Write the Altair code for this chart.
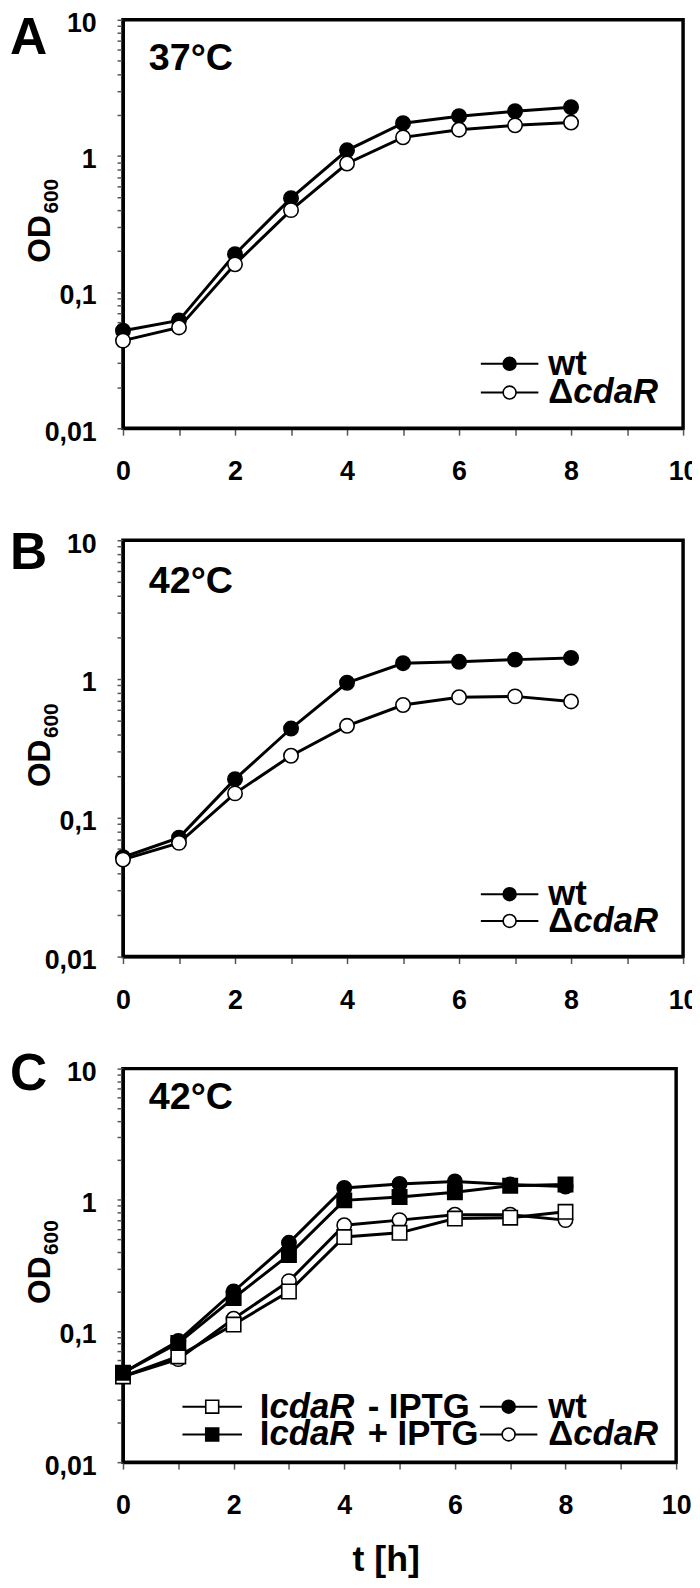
import altair as alt
import pandas as pd

FONT = "Liberation Sans"

# ---------------- data ----------------
hours = [0, 1, 2, 3, 4, 5, 6, 7, 8]

a_wt = [0.052, 0.062, 0.19, 0.49, 1.10, 1.74, 1.96, 2.13, 2.28]
a_cdar = [0.044, 0.055, 0.16, 0.40, 0.88, 1.37, 1.56, 1.68, 1.76]

b_wt = [0.052, 0.072, 0.19, 0.44, 0.94, 1.30, 1.33, 1.38, 1.42]
b_cdar = [0.050, 0.066, 0.15, 0.28, 0.46, 0.65, 0.74, 0.75, 0.69]

c_wt = [0.048, 0.084, 0.20, 0.47, 1.23, 1.32, 1.38, 1.31, 1.26]
c_cdar = [0.045, 0.061, 0.124, 0.24, 0.64, 0.70, 0.77, 0.77, 0.70]
c_minus = [0.045, 0.064, 0.112, 0.20, 0.52, 0.56, 0.72, 0.73, 0.81]
c_plus = [0.048, 0.081, 0.178, 0.38, 0.99, 1.05, 1.14, 1.28, 1.31]

series_names = ["wt", "ΔcdaR", "IcdaR - IPTG", "IcdaR + IPTG"]
series_shapes = ["circle", "circle", "square", "square"]
series_fills = ["black", "white", "white", "black"]

panel_letters = ["A", "B", "C"]
panel_temps = ["37°C", "42°C", "42°C"]

x_tick_values = [0, 1, 2, 3, 4, 5, 6, 7, 8, 9, 10]
y_tick_values = [0.01, 0.02, 0.03, 0.04, 0.05, 0.06, 0.07, 0.08, 0.09,
                 0.1, 0.2, 0.3, 0.4, 0.5, 0.6, 0.7, 0.8, 0.9,
                 1, 2, 3, 4, 5, 6, 7, 8, 9, 10]
y_label_values = [0.01, 0.1, 1, 10]
y_label_texts = ["0,01", "0,1", "1", "10"]
x_title = "t [h]"
y_title_main = "OD"
y_title_sub = "600"

# ---------------- helpers ----------------
y_label_expr = " : ".join(
    f"datum.value == {v} ? '{t}'" for v, t in zip(y_label_values, y_label_texts)
) + " : ''"


def long_df(pairs):
    rows = []
    for name, vals in pairs:
        for t, v in zip(hours, vals):
            rows.append({"t": t, "od": v, "series": name})
    return pd.DataFrame(rows)


def txt(text, x, y, size, italic=False, align="left", baseline="middle", angle=0):
    kw = dict(align=align, baseline=baseline, font=FONT, fontSize=size,
              fontWeight="bold", color="black", fontStyle="italic" if italic else "normal")
    if angle:
        kw["angle"] = angle
    return alt.Chart(pd.DataFrame({"label": [text]})).mark_text(**kw).encode(
        x=alt.value(x), y=alt.value(y), text="label:N")


# advance widths (em) of Liberation Sans Bold pieces
W_UP = {"Δ": 0.72, "I": 0.278, "- IPTG": 2.945, "+ IPTG": 3.196, "wt": 1.111}
W_IT = {"cdaR": 2.445}


def legend_entry(name, x0, x1, y, text_x, fs=35):
    i = series_names.index(name)
    layers = [
        alt.Chart(pd.DataFrame({"k": [0]})).mark_rule(color="black", strokeWidth=2).encode(
            x=alt.value(x0), x2=alt.value(x1), y=alt.value(y)),
        alt.Chart(pd.DataFrame({"k": [0]})).mark_point(
            shape=series_shapes[i], filled=True, fill=series_fills[i], stroke="black",
            strokeWidth=1.6, size=170, opacity=1).encode(x=alt.value((x0 + x1) / 2), y=alt.value(y)),
    ]
    if name == "wt":
        parts = [("wt", False, 0)]
    elif name == "ΔcdaR":
        parts = [("Δ", False, 0), ("cdaR", True, 0)]
    elif name == "IcdaR - IPTG":
        parts = [("I", False, 0), ("cdaR", True, 0), ("- IPTG", False, 0.30)]
    else:
        parts = [("I", False, 0), ("cdaR", True, 0), ("+ IPTG", False, 0.30)]
    cx = text_x
    for p, it, gap in parts:
        cx += gap * fs
        layers.append(txt(p, cx, y, fs, italic=it))
        cx += (W_IT[p] if it else W_UP[p]) * fs + (3 if it else 0)
    return layers


def make_panel(pairs, w, h, letter, letter_y, temp, temp_y, legend_layers, show_xtitle):
    df = long_df(pairs)

    x_axis = alt.Axis(values=x_tick_values,
                      labelExpr="datum.value % 2 == 0 ? datum.label : ''",
                      grid=False, tickSize=7, labelPadding=24, labelFlush=False,
                      labelOverlap=False,
                      title=x_title if show_xtitle else None,
                      titleFont=FONT, titleFontSize=36, titleFontWeight="bold",
                      titleColor="black", titlePadding=24, titleX=w / 2 - 14)
    y_axis = alt.Axis(values=y_tick_values, labelExpr=y_label_expr, grid=False,
                      tickSize=6, labelPadding=21, labelFlush=False, labelOverlap=False,
                      labelOffset=4, title=None)
    X = alt.X("t:Q", scale=alt.Scale(domain=[0, 10], nice=False, zero=False), axis=x_axis)
    Y = alt.Y("od:Q", scale=alt.Scale(type="log", domain=[0.01, 10], nice=False), axis=y_axis)

    lines = alt.Chart(df).mark_line(color="black", strokeWidth=3).encode(
        x=X, y=Y, detail="series:N", order="t:Q")
    points = alt.Chart(df).mark_point(filled=True, stroke="black", strokeWidth=1.6,
                                      size=210, opacity=1).encode(
        x=X, y=Y,
        shape=alt.Shape("series:N", scale=alt.Scale(domain=series_names, range=series_shapes),
                        legend=None),
        fill=alt.Fill("series:N", scale=alt.Scale(domain=series_names, range=series_fills),
                      legend=None),
    )
    extras = [
        txt(letter, -114, letter_y, 52, baseline="top"),
        txt(temp, 26, temp_y, 38, baseline="alphabetic"),
        txt(y_title_main, -74, h / 2 + 15, 32, align="center", baseline="alphabetic", angle=270),
        txt(y_title_sub, -66, h / 2 - 28, 21, align="center", baseline="alphabetic", angle=270),
    ]
    return alt.layer(lines, points, *extras, *legend_layers).properties(width=w, height=h)


# ---------------- panels ----------------
WA, HA = 565, 412
WB, HB = 565, 420
WC, HC = 558, 397

legA = legend_entry("wt", 361, 419, HA - 65, 429) + legend_entry("ΔcdaR", 361, 419, HA - 36, 429)
legB = legend_entry("wt", 361, 419, HB - 63, 429) + legend_entry("ΔcdaR", 361, 419, HB - 36, 429)
legC = (legend_entry("IcdaR - IPTG", 60, 120, HC - 56, 138)
        + legend_entry("IcdaR + IPTG", 60, 120, HC - 28, 138)
        + legend_entry("wt", 360, 418, HC - 56, 429)
        + legend_entry("ΔcdaR", 360, 418, HC - 28, 429))

pA = make_panel([("wt", a_wt), ("ΔcdaR", a_cdar)], WA, HA, panel_letters[0], -7,
                panel_temps[0], 51, legA, False)
pB = make_panel([("wt", b_wt), ("ΔcdaR", b_cdar)], WB, HB, panel_letters[1], -12,
                panel_temps[1], 53, legB, False)
pC = make_panel([("ΔcdaR", c_cdar), ("wt", c_wt), ("IcdaR - IPTG", c_minus),
                 ("IcdaR + IPTG", c_plus)], WC, HC, panel_letters[2], -19,
                panel_temps[2], 41, legC, True)

chart = alt.vconcat(pA, pB, pC, spacing=113, bounds="flush").properties(
    padding={"left": 0, "top": -7, "right": -8, "bottom": 0}
).configure_view(
    stroke="black", strokeWidth=3.5
).configure_axis(
    domainColor="black", domainWidth=3, tickColor="#555555", tickWidth=1.5,
    labelFont=FONT, labelFontSize=27, labelFontWeight="bold", labelColor="black",
)

chart.save("out.html", embed_options={"renderer": "svg", "actions": False})
